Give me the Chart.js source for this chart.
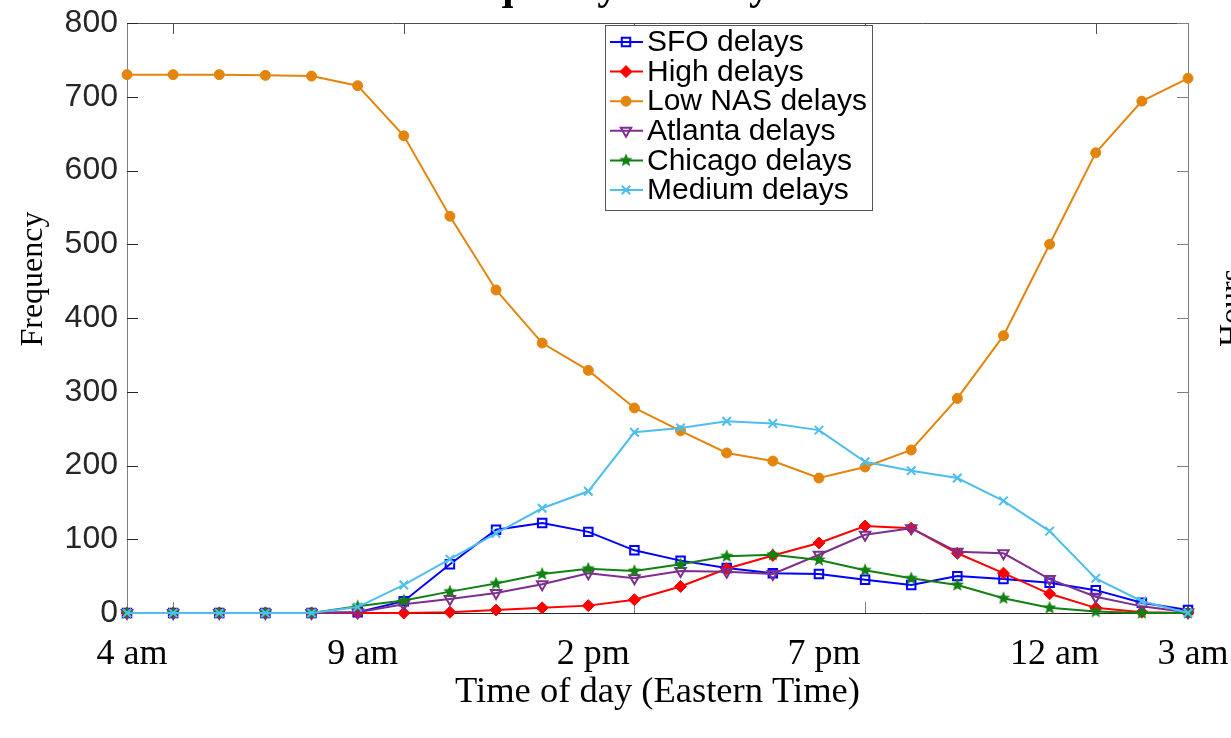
<!DOCTYPE html>
<html>
<head>
<meta charset="utf-8">
<script src="https://cdn.jsdelivr.net/npm/chart.js@4.4.1/dist/chart.umd.min.js"></script>
<style>
  html, body { margin: 0; padding: 0; background: #fff; }
  #wrap { width: 1231px; height: 738px; }
</style>
</head>
<body>
<div id="wrap"><canvas id="delays"></canvas></div>
<script>
/* ======================================================
   DATA
====================================================== */

const hours = [
  '4 am', '5 am', '6 am', '7 am', '8 am', '9 am', '10 am', '11 am',
  '12 pm', '1 pm', '2 pm', '3 pm', '4 pm', '5 pm', '6 pm', '7 pm',
  '8 pm', '9 pm', '10 pm', '11 pm', '12 am', '1 am', '2 am', '3 am'
];
const shownHours = ['4 am', '9 am', '2 pm', '7 pm', '12 am', '3 am'];
const minorHours = ['5 am', '10 am', '3 pm', '8 pm', '1 am'];
const yTicks = [0, 100, 200, 300, 400, 500, 600, 700, 800];

const sfoDelays     = [0, 0, 0, 0, 0, 1, 16, 66, 113, 122, 110, 85, 71, 61, 54, 53, 45, 38, 50, 46, 41, 31, 14, 4];
const highDelays    = [0, 0, 0, 0, 0, 0, 0, 1, 4, 7, 10, 18, 36, 60, 78, 95, 118, 115, 81, 54, 26, 7, 1, 0];
const lowNasDelays  = [730, 730, 730, 729, 728, 715, 647, 538, 438, 366, 329, 278, 247, 217, 206, 183, 198, 221, 291, 376, 500, 624, 694, 725];
const atlantaDelays = [0, 0, 0, 0, 0, 1, 12, 19, 27, 39, 54, 47, 57, 56, 53, 79, 106, 115, 83, 81, 46, 22, 9, 1];
const chicagoDelays = [0, 0, 0, 0, 0, 9, 17, 29, 40, 53, 60, 57, 66, 77, 79, 72, 58, 47, 38, 20, 7, 2, 0, 0];
const mediumDelays  = [0, 0, 0, 0, 0, 8, 38, 73, 108, 142, 165, 245, 251, 260, 257, 248, 205, 193, 183, 152, 111, 47, 16, 0];

const SERIF = '"Liberation Serif", "Times New Roman", serif';
const SANS  = '"Liberation Sans", Arial, sans-serif';

/* ======================================================
   MARKERS
====================================================== */

function filledStar(color, r) {
  const c = document.createElement('canvas');
  const s = Math.ceil(r * 2 + 2);
  c.width = c.height = s;
  const g = c.getContext('2d');
  g.fillStyle = color;
  g.beginPath();
  for (let k = 0; k < 10; k++) {
    const rr = k % 2 ? r * 0.45 : r;
    const a = -Math.PI / 2 + k * Math.PI / 5;
    g.lineTo(s / 2 + rr * Math.cos(a), s / 2 + rr * Math.sin(a));
  }
  g.closePath();
  g.fill();
  return c;
}

const seriesCfg = [
  { label: 'SFO delays',     data: sfoDelays,     color: '#0000ff', style: 'rect',     radius: 6, hollow: true },
  { label: 'High delays',    data: highDelays,    color: '#ff0000', style: 'rectRot',  radius: 6 },
  { label: 'Low NAS delays', data: lowNasDelays,  color: '#e3850c', style: 'circle',   radius: 5 },
  { label: 'Atlanta delays', data: atlantaDelays, color: '#7e2f8e', style: 'triangle', radius: 6, hollow: true, rotation: 180 },
  { label: 'Chicago delays', data: chicagoDelays, color: '#128012', style: filledStar('#128012', 7), radius: 7 },
  { label: 'Medium delays',  data: mediumDelays,  color: '#4dbeee', style: 'crossRot', radius: 6 }
];

const datasets = seriesCfg.map((s, i) => ({
  label: s.label,
  data: s.data,
  borderColor: s.color,
  backgroundColor: s.hollow ? 'rgba(255,255,255,0)' : s.color,
  borderWidth: 2,
  pointStyle: s.style,
  pointRadius: s.radius,
  pointRotation: s.rotation || 0,
  pointBorderWidth: s.hollow || s.style === 'crossRot' ? 2 : 1,
  tension: 0,
  clip: false,
  order: seriesCfg.length - i   // later series drawn on top
}));

/* ======================================================
   PLUGINS
====================================================== */

function seg(ctx, x1, y1, x2, y2, color) {
  ctx.strokeStyle = color;
  ctx.lineWidth = 1;
  ctx.beginPath();
  ctx.moveTo(x1, y1);
  ctx.lineTo(x2, y2);
  ctx.stroke();
}

// box + inward tick marks
const framePlugin = {
  id: 'frame',
  beforeDatasetsDraw(chart) {
    const { ctx, chartArea: a, scales: { x, y } } = chart;
    ctx.save();
    seg(ctx, a.left, a.top + 0.5, a.right, a.top + 0.5, '#4d4d4d');
    yTicks.forEach(v => {
      const py = Math.round(y.getPixelForValue(v)) + 0.5;
      seg(ctx, a.left, py, a.left + 11, py, '#262626');
      seg(ctx, a.right - 11, py, a.right, py, '#808080');
    });
    minorHours.forEach(h => {
      const px = Math.round(x.getPixelForValue(hours.indexOf(h))) + 0.5;
      seg(ctx, px, a.top, px, a.top + 11, '#4d4d4d');
      seg(ctx, px, a.bottom, px, a.bottom - 11, '#808080');
    });
    ctx.restore();
  }
};

// titles that sit partly outside the canvas
const labelsPlugin = {
  id: 'labels',
  afterDraw(chart) {
    const { ctx } = chart;
    ctx.save();
    ctx.fillStyle = '#000';
    ctx.textAlign = 'center';

    ctx.font = 'bold 42px ' + SERIF;
    ctx.textBaseline = 'alphabetic';
    ctx.fillText('Frequency of delays', 607, -1);

    ctx.font = '32px ' + SERIF;
    ctx.textBaseline = 'middle';
    ctx.translate(34, 279);
    ctx.rotate(-Math.PI / 2);
    ctx.fillText('Frequency', 0, 0);
    ctx.restore();

    ctx.save();
    ctx.fillStyle = '#000';
    ctx.textAlign = 'center';
    ctx.textBaseline = 'middle';
    ctx.font = '32px ' + SERIF;
    ctx.translate(1233, 308);
    ctx.rotate(-Math.PI / 2);
    ctx.fillText('Hours', 0, 0);
    ctx.restore();
  }
};

// line + marker legend box
const legendPlugin = {
  id: 'boxLegend',
  afterDraw(chart) {
    const { ctx } = chart;
    const box = { left: 605, top: 25, width: 267, height: 185 };
    ctx.save();
    ctx.fillStyle = '#fff';
    ctx.fillRect(box.left, box.top, box.width, box.height);
    ctx.strokeStyle = '#555';
    ctx.lineWidth = 1;
    ctx.strokeRect(box.left + 0.5, box.top + 0.5, box.width, box.height);

    ctx.font = '30px ' + SANS;
    ctx.textBaseline = 'middle';
    chart.data.datasets.forEach((ds, i) => {
      const ry = 42 + i * 29.6;
      ctx.strokeStyle = ds.borderColor;
      ctx.lineWidth = 2;
      ctx.beginPath();
      ctx.moveTo(610, ry);
      ctx.lineTo(643, ry);
      ctx.stroke();
      ctx.fillStyle = ds.backgroundColor;
      ctx.lineWidth = ds.pointBorderWidth;
      Chart.helpers.drawPoint(ctx, {
        pointStyle: ds.pointStyle,
        radius: ds.pointRadius,
        rotation: ds.pointRotation,
        borderWidth: ds.pointBorderWidth
      }, 626, ry);
      ctx.fillStyle = '#000';
      ctx.fillText(ds.label, 647, ry + 1);
    });
    ctx.restore();
  }
};

/* ======================================================
   CHART
====================================================== */

new Chart(document.getElementById('delays'), {
  type: 'line',
  data: { labels: hours, datasets },
  options: {
    responsive: true,
    maintainAspectRatio: false,
    animation: false,
    layout: { padding: { top: 23 }, autoPadding: false },
    plugins: {
      legend: { display: false },
      title: { display: false },
      tooltip: { enabled: false }
    },
    scales: {
      x: {
        type: 'category',
        offset: false,
        grid: { display: false, drawTicks: false },
        border: { display: true, color: '#262626', width: 1 },
        ticks: {
          autoSkip: false,
          maxRotation: 0,
          padding: 20,
          labelOffset: 5,
          color: '#000',
          font: { family: SERIF, size: 36 },
          callback(v) {
            const lbl = this.getLabelForValue(v);
            return shownHours.includes(lbl) ? lbl : '';
          }
        },
        title: {
          display: true,
          text: 'Time of day (Eastern Time)',
          color: '#000',
          font: { family: SERIF, size: 36.5 },
          padding: { top: 0, bottom: 24 }
        },
        afterFit(scale) {
          scale.height = 125;
          scale.paddingLeft = 0;
          scale.paddingRight = 0;
        }
      },
      y: {
        min: 0,
        max: 800,
        grid: { display: false, drawTicks: false },
        border: { display: true, color: '#808080', width: 1 },
        ticks: {
          stepSize: 100,
          padding: 9,
          color: '#262626',
          font: { family: SANS, size: 32 }
        },
        afterFit(scale) {
          scale.width = 127;
          scale.paddingTop = 0;
          scale.paddingBottom = 0;
        }
      },
      y2: {
        position: 'right',
        min: 0,
        max: 800,
        grid: { display: false, drawTicks: false },
        border: { display: true, color: '#808080', width: 1 },
        ticks: { display: false },
        afterFit(scale) {
          scale.width = 43;
          scale.paddingTop = 0;
          scale.paddingBottom = 0;
        }
      }
    }
  },
  plugins: [framePlugin, legendPlugin, labelsPlugin]
});
</script>
</body>
</html>
